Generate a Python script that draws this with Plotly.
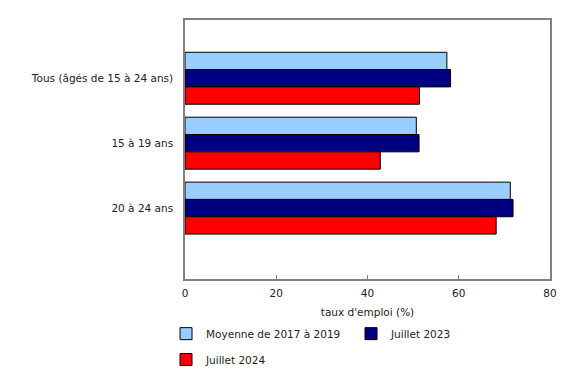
import plotly.graph_objects as go

categories = ["Tous (âgés de 15 à 24 ans)", "15 à 19 ans", "20 à 24 ans"]
series_names = ["Moyenne de 2017 à 2019", "Juillet 2023", "Juillet 2024"]
avg_2017_2019 = [57.4, 50.7, 71.3]
jul_2023 = [58.2, 51.3, 71.9]
jul_2024 = [51.4, 42.8, 68.2]
colors = ["#99CCFF", "#000080", "#FF0000"]
legend_ids = ["legend", "legend", "legend2"]
x_ticks = [0, 20, 40, 60, 80]

pos = list(range(len(categories)))
fig = go.Figure()
for name, vals, col, lg in zip(series_names, [avg_2017_2019, jul_2023, jul_2024], colors, legend_ids):
    fig.add_trace(go.Bar(
        y=pos, x=vals, name=name, orientation="h", legend=lg,
        marker=dict(color=col, line=dict(color="#000000", width=1)),
    ))

font = dict(family="DejaVu Sans, Verdana, sans-serif", size=10.5, color="#222222")
leg_common = dict(orientation="h", xanchor="left", yanchor="middle",
                  entrywidth=140, entrywidthmode="pixels", traceorder="normal",
                  font=font, itemwidth=30, bgcolor="rgba(0,0,0,0)")
fig.update_layout(
    width=580, height=370,
    margin=dict(l=185, r=30, t=20, b=91, autoexpand=False),
    barmode="group", bargap=0.2, bargroupgap=0,
    plot_bgcolor="white", paper_bgcolor="white",
    font=font,
    showlegend=True,
    legend=dict(x=-0.052, y=-0.211, **leg_common),
    legend2=dict(x=-0.052, y=-0.311, **leg_common),
    xaxis=dict(range=[0, 80], tickvals=x_ticks, showgrid=False, zeroline=False,
               showline=True, linecolor="#808080", linewidth=1.5, mirror=True,
               ticks="inside", ticklen=4, tickcolor="#808080", ticklabelstandoff=4,
               title=dict(text="taux d'emploi (%)", standoff=10, font=font), fixedrange=True),
    yaxis=dict(range=[3.092, -0.897], tickvals=pos, ticktext=categories,
               showgrid=False, zeroline=False, showline=True, linecolor="#808080",
               linewidth=1.5, mirror=True, ticks="", ticklabelstandoff=8),
)
fig.write_html("out.html")
